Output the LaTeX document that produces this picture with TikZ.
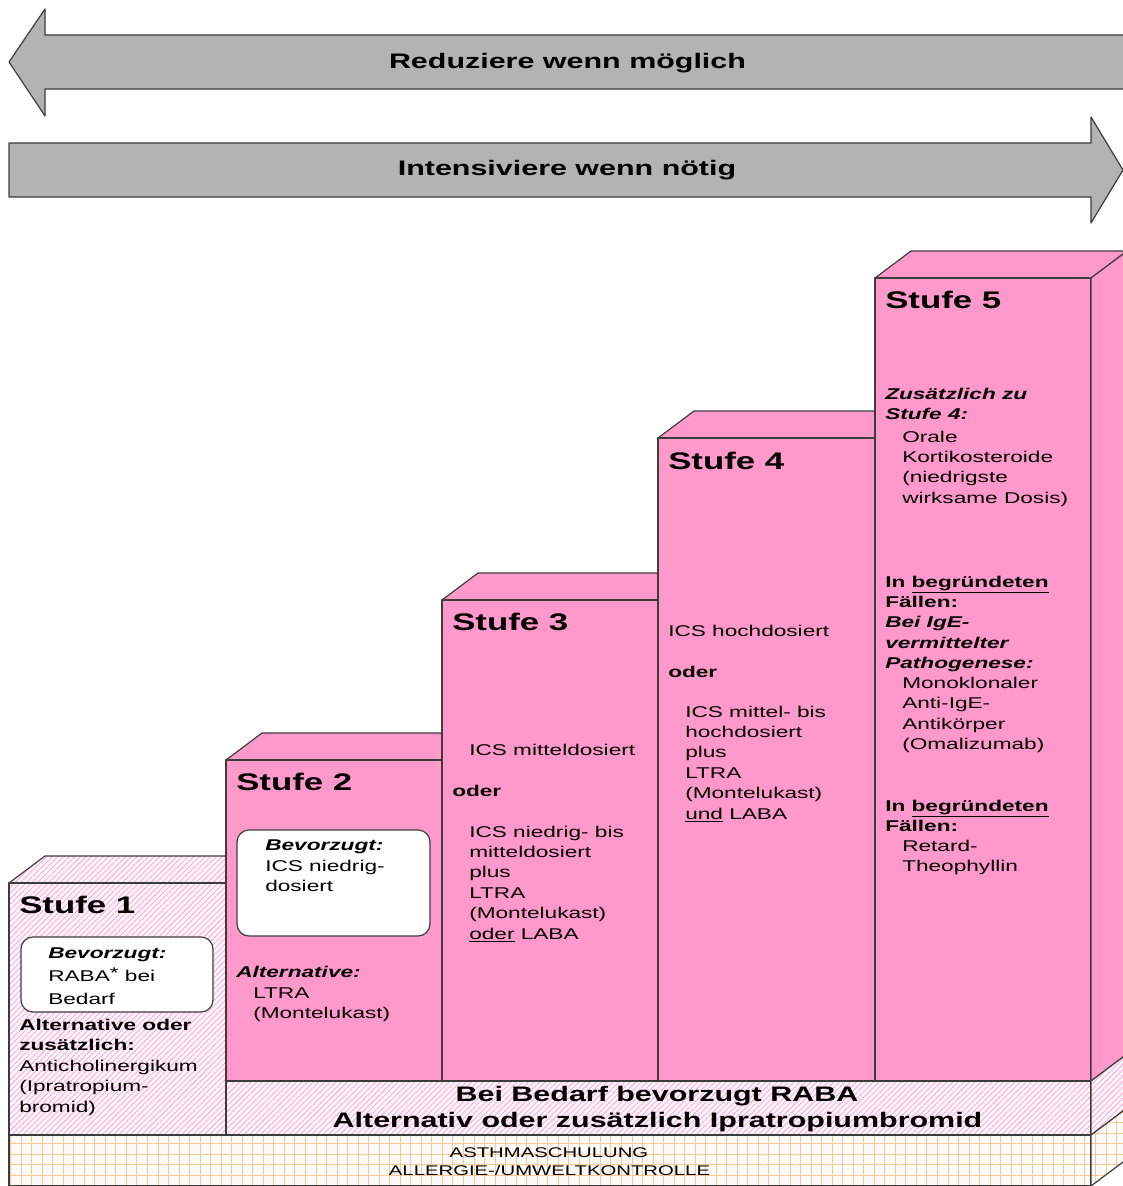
\documentclass[tikz,border=0pt]{standalone}
\usepackage{fontspec}
\setmainfont{Liberation Sans}[FakeStretch=1.45]
\usepackage{xcolor}
\usetikzlibrary{positioning,patterns.meta}

\definecolor{stepPink}{HTML}{FF99CC}
\definecolor{arrowGray}{HTML}{B3B3B3}
\definecolor{edgeGray}{HTML}{3C3C3C}
\definecolor{hatchLine}{HTML}{F7A6D6}
\definecolor{hatchBg}{HTML}{FFF4FA}
\definecolor{gridLine}{HTML}{FCC88E}
\definecolor{gridBg}{HTML}{FAFAF8}

\begin{document}
\begin{tikzpicture}[
    x=0.75pt, y=-0.75pt,
    face/.style={draw=edgeGray, line width=0.9pt, line join=round},
    pinkface/.style={face, fill=stepPink},
    hatchface/.style={face, preaction={fill=hatchBg}, pattern={Lines[angle=45,distance=3pt,line width=0.55pt]}, pattern color=hatchLine},
    gridface/.style={face, preaction={fill=gridBg}, pattern={Hatch[angle=0,distance=7.9pt,line width=0.7pt]}, pattern color=gridLine},
    arrowshape/.style={face, fill=arrowGray},
    prefbox/.style={draw=edgeGray, line width=0.9pt, fill=white, rounded corners=9pt},
    banner/.style={font=\fontsize{15.75}{19}\selectfont\bfseries, anchor=base, inner sep=0pt},
    title/.style={font=\fontsize{18}{21}\selectfont\bfseries, anchor=base west, inner sep=0pt},
    body/.style={font=\fontsize{11.7}{15.3}\selectfont, align=left, anchor=north west, inner sep=0pt},
    bodybf/.style={body, font=\fontsize{11.7}{15.3}\selectfont\bfseries},
    bodybi/.style={body, font=\fontsize{11.7}{15.3}\selectfont\bfseries\itshape},
    basetext/.style={font=\fontsize{10.5}{13}\selectfont, anchor=base, inner sep=0pt}
]
    \useasboundingbox (0,0) rectangle (1123,1186);
    \clip (0,0) rectangle (1123,1186);

    % Arrows
    \draw [arrowshape] (9,62) -- (45,9) -- (45,35) -- (1130,35) -- (1130,89) -- (45,89) -- (45,116) -- cycle;
    \draw [arrowshape] (9,143) -- (1091,143) -- (1091,117) -- (1123,170) -- (1091,223) -- (1091,197) -- (9,197) -- cycle;
    \node [banner] (reduce) at (567.5,68.3) {Reduziere wenn möglich};
    \node [banner] (intensify) at (567,175) {Intensiviere wenn nötig};

    % Stufe 1
    \draw [hatchface] (9,883) -- ++(36,-27) -- (262,856) -- (226,883) -- cycle;
    \draw [hatchface] (9,883) rectangle (226,1135);

    % Stufen 2-5
    \foreach \x/\t/\nx in {226/760/442, 442/600/658, 658/438/875, 875/278/1091} {
        \draw [pinkface] (\x,\t) -- ++(36,-27) -- (\nx+36,\t-27) -- (\nx,\t) -- cycle;
        \draw [pinkface] (\x,\t) rectangle (\nx,1081);
    }
    \draw [pinkface] (1091,278) -- ++(36,-27) -- (1127,1054) -- (1091,1081) -- cycle;

    % Band and base
    \draw [hatchface] (226,1081) rectangle (1091,1135);
    \draw [hatchface] (1091,1081) -- (1127,1054) -- (1127,1108) -- (1091,1135) -- cycle;
    \draw [gridface] (9,1135) rectangle (1091,1186);
    \draw [gridface] (1091,1135) -- (1127,1108) -- (1127,1159) -- (1091,1186) -- cycle;

    % Stufe 1 text
    \node [title] (s1) at (19,913) {Stufe 1};
    \draw [prefbox] (21,937) rectangle (213,1012);
    \node [body, font=\fontsize{11.7}{17}\selectfont] (s1-pref) at (48,947.8)
        {\textbf{\textit{Bevorzugt:}}\\RABA\raisebox{2.5pt}{*} bei\\Bedarf};
    \node [body, font=\fontsize{11.7}{15.4}\selectfont] (s1-alt) at (19,1018.8)
        {\textbf{Alternative oder}\\\textbf{zusätzlich:}\\Anticholinergikum\\(Ipratropium-\\bromid)};

    % Stufe 2 text
    \node [title] (s2) at (236,790) {Stufe 2};
    \draw [prefbox] (237,830) rectangle (430,936);
    \node [body] (s2-pref) at (265,839.8) {\textbf{\textit{Bevorzugt:}}\\ICS niedrig-\\dosiert};
    \node [bodybi] (s2-alt) at (236,965.8) {Alternative:};
    \node [body] (s2-ltra) at (253,987.1) {LTRA\\(Montelukast)};

    % Stufe 3 text
    \node [title] (s3) at (452,630) {Stufe 3};
    \node [body] (s3-ics) at (469,743.8) {ICS mitteldosiert};
    \node [bodybf] (s3-or) at (452,784.8) {oder};
    \node [body] (s3-combo) at (469,825.5)
        {ICS niedrig- bis\\mitteldosiert\\plus\\LTRA\\(Montelukast)\\\underline{oder} LABA};

    % Stufe 4 text
    \node [title] (s4) at (668,469) {Stufe 4};
    \node [body] (s4-ics) at (668,624.8) {ICS hochdosiert};
    \node [bodybf] (s4-or) at (668,665.5) {oder};
    \node [body] (s4-combo) at (685,705.5)
        {ICS mittel- bis\\hochdosiert\\plus\\LTRA\\(Montelukast)\\\underline{und} LABA};

    % Stufe 5 text
    \node [title] (s5) at (885,308) {Stufe 5};
    \node [bodybi] (s5-add) at (885,387.8) {Zusätzlich zu\\Stufe 4:};
    \node [body] (s5-oral) at (902,430.5) {Orale\\Kortikosteroide\\(niedrigste\\wirksame Dosis)};
    \node [bodybf] (s5-ige) at (885,575.5)
        {In \underline{begründeten}\\Fällen:\\\textit{Bei IgE-}\\\textit{vermittelter}\\\textit{Pathogenese:}};
    \node [body] (s5-mab) at (902,677) {Monoklonaler\\Anti-IgE-\\Antikörper\\(Omalizumab)};
    \node [bodybf] (s5-theo-head) at (885,799.5) {In \underline{begründeten}\\Fällen:};
    \node [body] (s5-theo) at (902,839.8) {Retard-\\Theophyllin};

    % Band and base text
    \node [banner] (raba) at (657,1101.7) {Bei Bedarf bevorzugt RABA};
    \node [banner] (ipra) at (657.5,1127.3) {Alternativ oder zusätzlich Ipratropiumbromid};
    \node [basetext] (school) at (549,1157.3) {ASTHMASCHULUNG};
    \node [basetext] (allergy) at (549.5,1175) {ALLERGIE-/UMWELTKONTROLLE};
\end{tikzpicture}
\end{document}
